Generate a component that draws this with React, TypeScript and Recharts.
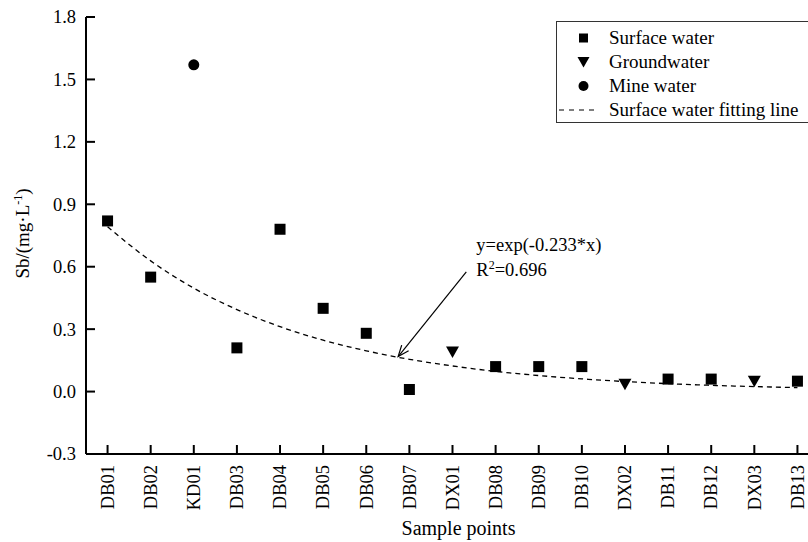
import React from 'react';
import { ComposedChart, Line, Scatter, XAxis, YAxis, ReferenceLine } from 'recharts';

// Sampling sites along the horizontal axis, in order
const samplePoints = ['DB01', 'DB02', 'KD01', 'DB03', 'DB04', 'DB05', 'DB06', 'DB07', 'DX01', 'DB08', 'DB09', 'DB10', 'DX02', 'DB11', 'DB12', 'DX03', 'DB13'];

// Sb concentration (mg/L) per water type
const surfaceSites = ['DB01', 'DB02', 'DB03', 'DB04', 'DB05', 'DB06', 'DB07', 'DB08', 'DB09', 'DB10', 'DB11', 'DB12', 'DB13'];
const surfaceSb = [0.82, 0.55, 0.21, 0.78, 0.40, 0.28, 0.01, 0.12, 0.12, 0.12, 0.06, 0.06, 0.05];

const groundSites = ['DX01', 'DX02', 'DX03'];
const groundSb = [0.19, 0.035, 0.05];

const mineSites = ['KD01'];
const mineSb = [1.57];

// Fitted curve y = exp(-0.233 * x), evaluated at each site position 1..17
const fitSb = [0.792, 0.628, 0.497, 0.394, 0.312, 0.247, 0.196, 0.155, 0.123, 0.097, 0.077, 0.061, 0.048, 0.038, 0.030, 0.024, 0.019];

const yTicks = [-0.3, 0, 0.3, 0.6, 0.9, 1.2, 1.5, 1.8];
const xTicks = samplePoints.map((_, i) => i + 1);

const fitEquation = 'y=exp(-0.233*x)';
const fitR2 = '0.696';

// Arrow from the equation to the fitted curve (site position, Sb)
const arrowFrom = { x: 9.32, y: 0.575 };
const arrowTo = { x: 7.74, y: 0.168 };

const legendItems = [
  { label: 'Surface water', kind: 'square' },
  { label: 'Groundwater', kind: 'triangle' },
  { label: 'Mine water', kind: 'circle' },
  { label: 'Surface water fitting line', kind: 'dash' },
];

const toPoints = (sites: string[], values: number[]) =>
  sites.map((s, i) => ({ x: samplePoints.indexOf(s) + 1, y: values[i] }));

const surfaceData = toPoints(surfaceSites, surfaceSb);
const groundData = toPoints(groundSites, groundSb);
const mineData = toPoints(mineSites, mineSb);
const fitData = fitSb.map((v, i) => ({ x: i + 1, y: v }));

const FONT = '"Liberation Serif", "Times New Roman", serif';
const INK = '#000';

const SquareShape = (p: any) => (
  <rect x={p.cx - 5.5} y={p.cy - 5.5} width={11} height={11} fill={INK} />
);
const DownTriangle = (p: any) => (
  <path d={`M${p.cx - 6.5},${p.cy - 5.5} L${p.cx + 6.5},${p.cy - 5.5} L${p.cx},${p.cy + 6} Z`} fill={INK} />
);
const CircleShape = (p: any) => <circle cx={p.cx} cy={p.cy} r={5.5} fill={INK} />;

const XTick = (p: any) => {
  const name = samplePoints[Math.round(p.payload.value) - 1] ?? '';
  return (
    <text
      x={p.x}
      y={p.y}
      transform={`rotate(-90, ${p.x}, ${p.y})`}
      textAnchor="end"
      dy="0.34em"
      fontFamily={FONT}
      fontSize={18.5}
      fill={INK}
    >
      {name}
    </text>
  );
};

const YTick = (p: any) => (
  <text x={p.x} y={p.y} textAnchor="end" dy="0.35em" fontFamily={FONT} fontSize={18.5} fill={INK}>
    {Number(p.payload.value).toFixed(1)}
  </text>
);

const ArrowShape = (p: any) => {
  const { x1, y1, x2, y2 } = p;
  const ang = Math.atan2(y2 - y1, x2 - x1);
  const len = 12;
  const spread = 0.38;
  const ax = x2 - len * Math.cos(ang - spread);
  const ay = y2 - len * Math.sin(ang - spread);
  const bx = x2 - len * Math.cos(ang + spread);
  const by = y2 - len * Math.sin(ang + spread);
  return (
    <g>
      <line x1={x1} y1={y1} x2={x2} y2={y2} stroke={INK} strokeWidth={1.2} />
      <path d={`M${ax},${ay} L${x2},${y2} L${bx},${by}`} fill="none" stroke={INK} strokeWidth={1.2} />
      <text x={x1 + 10} y={y1 - 21} fontFamily={FONT} fontSize={18.5} fill={INK}>
        {fitEquation}
      </text>
      <text x={x1 + 10} y={y1 + 4} fontFamily={FONT} fontSize={18.5} fill={INK}>
        R<tspan dy={-7} fontSize={12}>2</tspan>
        <tspan dy={7}>={fitR2}</tspan>
      </text>
    </g>
  );
};

const YLabel = (p: any) => {
  const vb = p.viewBox || {};
  const cx = (vb.x ?? 0) + 29;
  const cy = (vb.y ?? 0) + (vb.height ?? 0) / 2 - 2;
  return (
    <text
      x={cx}
      y={cy}
      transform={`rotate(-90, ${cx}, ${cy})`}
      textAnchor="middle"
      fontFamily={FONT}
      fontSize={19}
      fill={INK}
    >
      Sb/(mg·L<tspan dy={-7} fontSize={12}>-1</tspan>
      <tspan dy={7}>)</tspan>
    </text>
  );
};

const XLabel = (p: any) => {
  const vb = p.viewBox || {};
  const cx = (vb.x ?? 0) + (vb.width ?? 0) / 2 + 6;
  return (
    <text x={cx} y={535} textAnchor="middle" fontFamily={FONT} fontSize={20} fill={INK}>
      Sample points
    </text>
  );
};

const LegendSymbol = ({ kind }: { kind: string }) => (
  <svg width={44} height={20} style={{ display: 'block' }}>
    {kind === 'square' && <rect x={22} y={5.5} width={9} height={9} fill={INK} />}
    {kind === 'triangle' && <path d="M20.5,5 L32.5,5 L26.5,15.5 Z" fill={INK} />}
    {kind === 'circle' && <circle cx={26.5} cy={10} r={5} fill={INK} />}
    {kind === 'dash' && (
      <line x1={2} y1={10} x2={42} y2={10} stroke={INK} strokeWidth={1.2} strokeDasharray="5 5" />
    )}
  </svg>
);

const ChartLegend = () => (
  <div
    style={{
      position: 'absolute',
      left: 556,
      top: 21,
      width: 300,
      height: 102,
      border: '1px solid #333',
      background: '#fff',
      boxSizing: 'border-box',
      paddingTop: 4,
    }}
  >
    {legendItems.map((it) => (
      <div key={it.label} style={{ display: 'flex', alignItems: 'center', height: 24 }}>
        <LegendSymbol kind={it.kind} />
        <span style={{ fontFamily: FONT, fontSize: 19, color: INK, marginLeft: 8, whiteSpace: 'nowrap' }}>
          {it.label}
        </span>
      </div>
    ))}
  </div>
);

export default function App() {
  return (
    <div style={{ position: 'absolute', left: 0, top: 0, width: 808, height: 542, overflow: 'hidden', background: '#fff' }}>
      <ComposedChart width={840} height={542} margin={{ top: 17, right: 21, bottom: 0, left: 0 }}>
        <XAxis
          type="number"
          dataKey="x"
          domain={[0.5, 17.5]}
          ticks={xTicks}
          interval={0}
          allowDataOverflow
          height={88}
          axisLine={{ stroke: INK, strokeWidth: 2 }}
          tickLine={{ stroke: INK, strokeWidth: 2 }}
          tickSize={-9}
          tickMargin={20}
          tick={<XTick />}
          label={<XLabel />}
        />
        <XAxis
          xAxisId="top"
          orientation="top"
          type="number"
          domain={[0.5, 17.5]}
          allowDataOverflow
          height={0}
          tick={false}
          tickLine={false}
          axisLine={{ stroke: INK, strokeWidth: 2 }}
        />
        <YAxis
          type="number"
          domain={[-0.3, 1.8]}
          ticks={yTicks}
          interval={0}
          allowDataOverflow
          width={86}
          axisLine={{ stroke: INK, strokeWidth: 2 }}
          tickLine={{ stroke: INK, strokeWidth: 2 }}
          tickSize={-9}
          tickMargin={19}
          tick={<YTick />}
          label={<YLabel />}
        />
        <YAxis
          yAxisId="right"
          orientation="right"
          type="number"
          domain={[-0.3, 1.8]}
          allowDataOverflow
          width={0}
          tick={false}
          tickLine={false}
          axisLine={{ stroke: INK, strokeWidth: 2 }}
        />
        <Line
          data={fitData}
          dataKey="y"
          type="monotone"
          stroke={INK}
          strokeWidth={1.3}
          strokeDasharray="5 4"
          dot={false}
          activeDot={false}
          isAnimationActive={false}
          name="Surface water fitting line"
        />
        <Scatter data={surfaceData} dataKey="y" shape={SquareShape} isAnimationActive={false} name="Surface water" />
        <Scatter data={groundData} dataKey="y" shape={DownTriangle} isAnimationActive={false} name="Groundwater" />
        <Scatter data={mineData} dataKey="y" shape={CircleShape} isAnimationActive={false} name="Mine water" />
        <ReferenceLine segment={[arrowFrom, arrowTo]} shape={ArrowShape} ifOverflow="visible" />
      </ComposedChart>
      <ChartLegend />
    </div>
  );
}
